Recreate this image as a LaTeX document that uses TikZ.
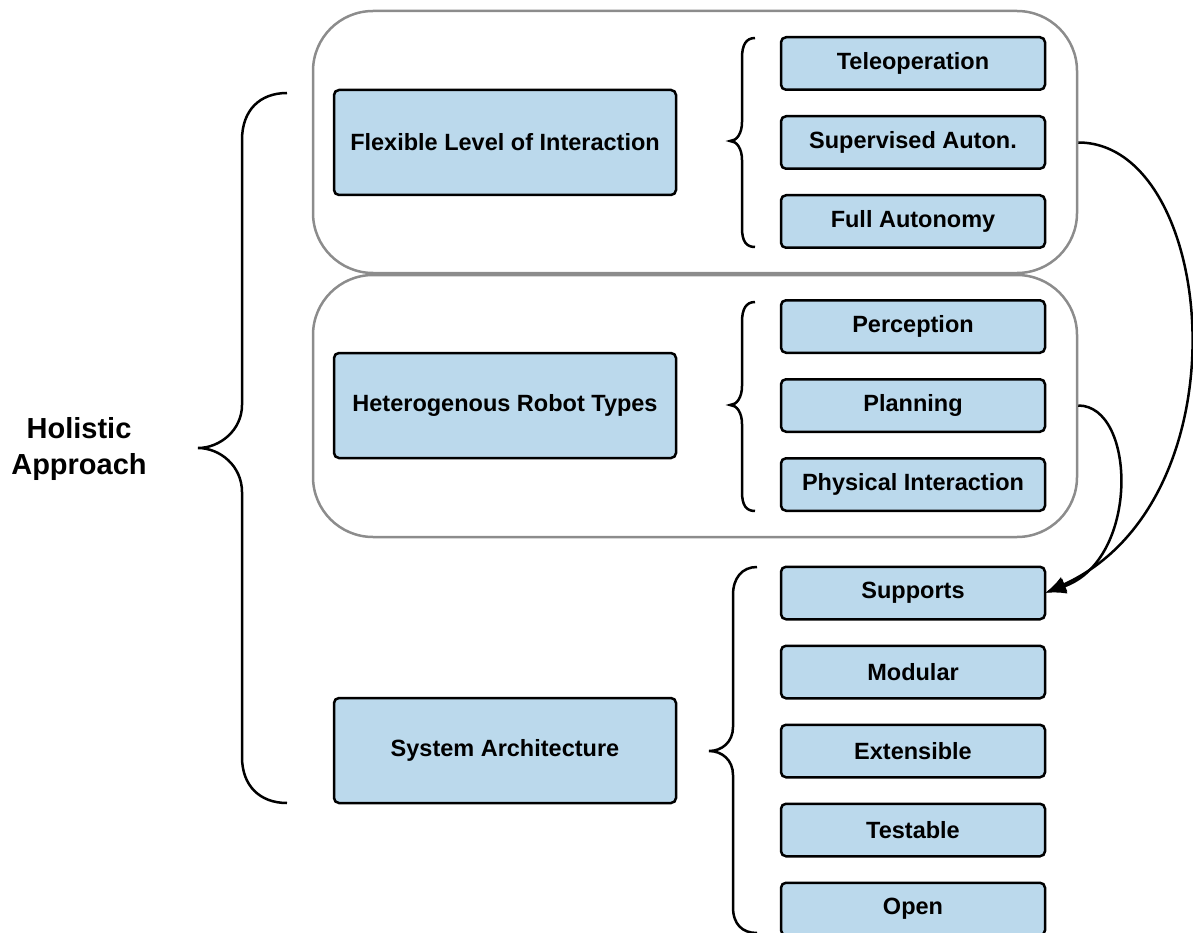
\documentclass[tikz,border=0pt]{standalone}
\usepackage{fontspec}
\setmainfont{Liberation Sans}
\usetikzlibrary{arrows.meta,positioning}
\definecolor{boxblue}{RGB}{187,217,236}
\definecolor{grpgray}{RGB}{140,140,140}
\tikzset{
	>={Latex[length=21pt,width=16pt]},   % filled tips
	grp/.style={draw=grpgray, line width=2.5pt, rounded corners=60pt, minimum width=764pt, minimum height=262pt},
	box/.style={draw, line width=2.5pt, fill=boxblue, rounded corners=5pt, inner sep=0pt, outer sep=0pt,
		font=\fontsize{23.5}{28}\selectfont\bfseries},
	bigbox/.style={box, minimum width=342pt, minimum height=105pt},
	smallbox/.style={box, minimum width=264pt, minimum height=52.5pt},
	curly/.style={line width=2.5pt},
	link/.style={->, line width=2.5pt}
}
\begin{document}
\begin{tikzpicture}[x=1pt, y=-1pt]
	\useasboundingbox (0,0) rectangle (1193,933);
	
	% groups
	\node (grp1) [grp] at (695,142) {};
	\node (grp2) [grp] at (695,406) {};
	
	% left side
	\node (holistic) [font=\fontsize{29}{36}\selectfont\bfseries, align=center] at (79,449) {Holistic\\Approach};
	\node (flex) [bigbox] at (505,142.5) {Flexible Level of Interaction};
	\node (hetero) [bigbox] at (505,405.5) {Heterogenous Robot Types};
	\node (sysarch) [bigbox] at (505,750.5) {System Architecture};
	
	% right side
	\node (tele) [smallbox] at (913,63.5) {Teleoperation};
	\node (super) [smallbox, below=26.5pt of tele] {Supervised Auton.};
	\node (full) [smallbox, below=26.5pt of super] {Full Autonomy};
	\node (percep) [smallbox, below=52.5pt of full] {Perception};
	\node (plan) [smallbox, below=26.5pt of percep] {Planning};
	\node (phys) [smallbox, below=26.5pt of plan] {Physical Interaction};
	\node (supp) [smallbox, below=56pt of phys] {Supports};
	\node (modular) [smallbox, below=26.5pt of supp] {Modular};
	\node (ext) [smallbox, below=26.5pt of modular] {Extensible};
	\node (test) [smallbox, below=26.5pt of ext] {Testable};
	\node (open) [smallbox, below=26.5pt of test] {Open};
	
	% braces
	\draw[curly] (287,93) .. controls (260,93) and (242,110) .. (242,140) -- (242,405)
		.. controls (242,430) and (220,448) .. (198,448)
		.. controls (220,448) and (242,466) .. (242,492) -- (242,757)
		.. controls (242,786) and (260,803) .. (287,803);
	\draw[curly] (755,38) .. controls (746,38) and (742,45) .. (742,58) -- (742,122)
		.. controls (742,133) and (737,141) .. (730,141)
		.. controls (737,141) and (742,149) .. (742,160) -- (742,228)
		.. controls (742,241) and (746,247) .. (755,247);
	\draw[curly] (755,302) .. controls (746,302) and (742,309) .. (742,322) -- (742,386)
		.. controls (742,397) and (737,405) .. (730,405)
		.. controls (737,405) and (742,413) .. (742,424) -- (742,492)
		.. controls (742,505) and (746,511) .. (755,511);
	\draw[curly] (757,567) .. controls (742,567) and (733,578) .. (733,595) -- (733,727)
		.. controls (733,742) and (722,751) .. (709,751)
		.. controls (722,751) and (733,760) .. (733,775) -- (733,907)
		.. controls (733,924) and (742,933) .. (757,933);
	
	% links
	\draw[link] (super -| grp1.east) .. controls +(138,0) and +(205,-93) .. (supp.east);
	\draw[link] (plan -| grp2.east) .. controls +(58,0) and +(95,-33) .. (supp.east);
\end{tikzpicture}
\end{document}
